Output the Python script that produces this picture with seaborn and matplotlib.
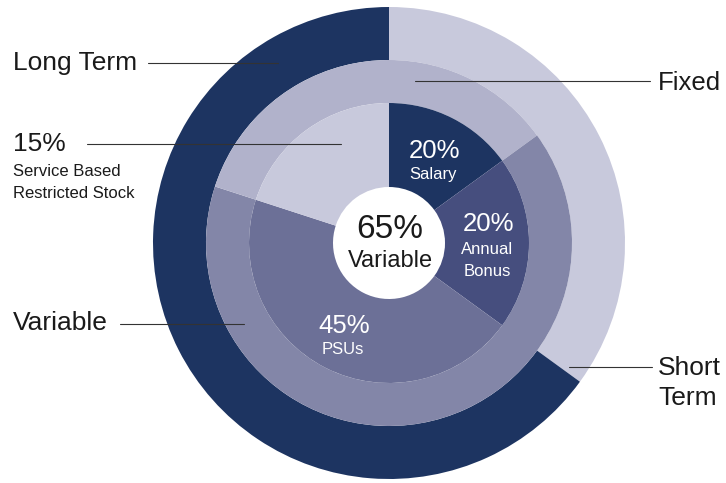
import numpy as np
import matplotlib.pyplot as plt
import seaborn as sns

sns.set_theme(style="white")
plt.rcParams['font.family'] = ['Liberation Sans', 'DejaVu Sans']

# outer ring: time horizon (clockwise from 12 o'clock)
term_labels = ['Short Term', 'Long Term']
term_share = [35, 65]

# middle ring: fixed vs variable (fixed wraps around the top)
mix_labels = ['Fixed', 'Variable', 'Fixed']
mix_share = [15, 65, 20]

# inner ring: pay elements (slice sizes as drawn) and their printed labels
pay_labels = ['Salary', 'Annual\nBonus', 'PSUs', 'Service Based\nRestricted Stock']
pay_share = [15, 20, 45, 20]
pay_pct = ['20%', '20%', '45%', '15%']

navy = '#1d3461'
term_colors = ['#c8c9dc', navy]
mix_colors = ['#b1b2cb', '#8386a8', '#b1b2cb']
pay_colors = [navy, '#464e7e', '#6c7097', '#c8c9dc']

W, H = 726, 483
cx, cy, R = 389, 243, 236   # pie centre and outer radius in pixels

fig = plt.figure(figsize=(W / 100, H / 100), dpi=100)
ax = fig.add_axes([(cx - R) / W, (H - cy - R) / H, 2 * R / W, 2 * R / H])

kw = dict(startangle=90, counterclock=False)
ax.pie(term_share, radius=1.0, colors=term_colors,
       wedgeprops=dict(width=1 - 183 / R, linewidth=0), **kw)
ax.pie(mix_share, radius=183 / R, colors=mix_colors,
       wedgeprops=dict(width=(183 - 140) / R, linewidth=0), **kw)
ax.pie(pay_share, radius=140 / R, colors=pay_colors,
       wedgeprops=dict(width=(140 - 56) / R, linewidth=0), **kw)

# pie() resets the limits, so fix them afterwards
ax.set_xlim(-1, 1)
ax.set_ylim(-1, 1)
ax.set_aspect('equal')
ax.axis('off')


def px(x, y):
    # pixel position in the picture -> data coordinates
    return (x - cx) / R, (cy - y) / R


def txt(x, y, s, size, color='#1a1a1a', ha='center', va='center'):
    ax.text(*px(x, y), s, fontsize=size, color=color, ha=ha, va=va, clip_on=False)


def leader(x0, x1, y):
    (a, b), (c, d) = px(x0, y), px(x1, y)
    ax.plot([a, c], [b, d], color='#333333', lw=0.8, clip_on=False)


big = 19

# labels inside the rings
txt(434, 151, pay_pct[0], 18.5, 'white')
txt(433, 175, pay_labels[0], 12, 'white')
txt(488, 224, pay_pct[1], 18.5, 'white')
txt(487, 249, 'Annual', 12, 'white')
txt(487, 271, 'Bonus', 12, 'white')
txt(344, 326, pay_pct[2], 18.5, 'white')
txt(343, 349, pay_labels[2], 12, 'white')
txt(390, 229, '65%', 24)
txt(390, 261, mix_labels[1], 17)

# labels outside with leader lines
txt(13, 70, term_labels[1], big, ha='left', va='baseline')
leader(148, 278, 63)
txt(13, 151, pay_pct[3], big, ha='left', va='baseline')
txt(13, 176, 'Service Based', 12, ha='left', va='baseline')
txt(13, 198, 'Restricted Stock', 12, ha='left', va='baseline')
leader(87, 341, 144)
txt(13, 330, mix_labels[1], big, ha='left', va='baseline')
leader(120, 244, 324)
txt(658, 90, mix_labels[0], 18.5, ha='left', va='baseline')
leader(415, 650, 81)
txt(658, 375, 'Short', big, ha='left', va='baseline')
txt(658, 405, 'Term', big, ha='left', va='baseline')
leader(569, 652, 367)

fig.savefig('out.png', dpi=100, facecolor='white')
